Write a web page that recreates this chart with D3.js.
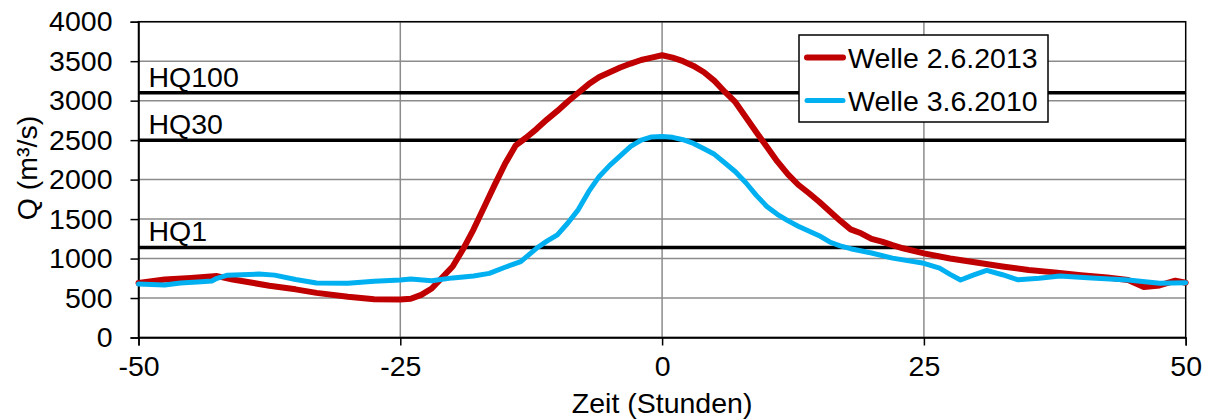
<!DOCTYPE html>
<html>
<head>
<meta charset="utf-8">
<script src="https://cdn.jsdelivr.net/npm/d3@7"></script>
<style>
  body { margin: 0; background: #fff; }
  svg { display: block; }
  text { font-family: "Liberation Sans", Arial, sans-serif; fill: #000; }
</style>
</head>
<body>
<svg id="chart" width="1208" height="419"></svg>
<script>
// Stunden relativ zum Scheitel, Abfluss Q in m3/s
var hours2013 = [-50, -47.5, -45, -42.5, -41, -39, -37.5, -35, -33, -30, -27.5, -25, -24, -23, -22, -21, -20, -19, -18, -17, -16, -15, -14, -13, -12, -11, -10, -9, -8, -7, -6, -5, -4, -3, -2, -1, 0, 1, 2, 3, 4, 5, 6, 7, 8, 9, 10, 11, 12, 13, 14, 15, 16, 17, 18, 19, 20, 21, 22, 23, 25, 27.5, 30, 32.5, 35, 37.5, 40, 42.5, 44.5, 46, 47.5, 49, 50];
var q2013 = [690, 735, 755, 778, 735, 690, 655, 610, 565, 515, 485, 480, 490, 540, 620, 760, 900, 1120, 1370, 1650, 1930, 2200, 2430, 2530, 2640, 2760, 2870, 2990, 3100, 3210, 3300, 3360, 3420, 3470, 3515, 3545, 3575, 3545, 3500, 3440, 3360, 3250, 3110, 2980, 2790, 2600, 2415, 2230, 2070, 1935, 1830, 1720, 1600, 1480, 1370, 1320, 1250, 1215, 1170, 1130, 1066, 1000, 950, 900, 855, 825, 790, 760, 728, 640, 660, 720, 694];

var hours2010 = [-50, -47.5, -46, -44, -43, -42.5, -41.5, -38.5, -37, -35, -33, -30, -27.5, -25, -24, -22, -20, -18, -16.5, -15, -13.5, -12, -11, -10, -9, -8, -7, -6, -5, -4, -3, -2, -1, 0, 1, 2, 3, 4, 5, 6, 7, 8, 9, 10, 11, 12, 13, 14, 15, 16, 17, 18, 20, 22, 25, 26.5, 27.5, 28.5, 29.7, 31, 32.5, 34, 36, 38, 41, 44.5, 47.5, 50];
var q2010 = [677, 665, 690, 705, 715, 750, 790, 803, 790, 735, 690, 686, 712, 728, 740, 720, 755, 780, 812, 890, 960, 1130, 1220, 1300, 1450, 1620, 1850, 2040, 2180, 2300, 2420, 2500, 2540, 2545, 2535, 2505, 2458, 2390, 2320, 2210, 2100, 1960, 1800, 1660, 1560, 1480, 1410, 1350, 1290, 1210, 1160, 1125, 1070, 1005, 940, 880, 800, 728, 791, 850, 795, 730, 750, 778, 755, 728, 686, 694];

var hqNames = ["HQ100", "HQ30", "HQ1"];
var hqValues = [3100, 2500, 1140];

var xTicks = [-50, -25, 0, 25, 50];
var yTicks = [0, 500, 1000, 1500, 2000, 2500, 3000, 3500, 4000];

var seriesNames = ["Welle 2.6.2013", "Welle 3.6.2010"];
var seriesColors = ["#c00000", "#00b0f0"];

var svg = d3.select("#chart"),
    plotLeft = 138.5, plotRight = 1185.7, plotTop = 21.7, plotBottom = 337.5,
    fontSize = "28.5px";

var x = d3.scaleLinear().domain([-50, 50]).range([plotLeft, plotRight]);
var y = d3.scaleLinear().domain([0, 4000]).range([plotBottom, plotTop]);

// Gitternetz
svg.append("g").selectAll("line").data(yTicks).enter().append("line")
    .attr("x1", plotLeft).attr("x2", plotRight)
    .attr("y1", function(d) { return y(d); }).attr("y2", function(d) { return y(d); })
    .attr("stroke", "#8c8c8c").attr("stroke-width", 1.5);
svg.append("g").selectAll("line").data(xTicks.slice(1, -1)).enter().append("line")
    .attr("x1", function(d) { return x(d); }).attr("x2", function(d) { return x(d); })
    .attr("y1", plotTop).attr("y2", plotBottom)
    .attr("stroke", "#8c8c8c").attr("stroke-width", 1.5);

// HQ-Linien
svg.append("g").selectAll("line").data(hqValues).enter().append("line")
    .attr("x1", plotLeft).attr("x2", plotRight)
    .attr("y1", function(d) { return y(d); }).attr("y2", function(d) { return y(d); })
    .attr("stroke", "#000").attr("stroke-width", 3.5);
svg.append("g").selectAll("text").data(hqValues).enter().append("text")
    .attr("x", plotLeft + 10)
    .attr("y", function(d) { return y(d) - 6; })
    .style("font-size", fontSize)
    .text(function(d, i) { return hqNames[i]; });

// Rahmen
svg.append("rect")
    .attr("x", plotLeft).attr("y", plotTop)
    .attr("width", plotRight - plotLeft).attr("height", plotBottom - plotTop)
    .attr("fill", "none").attr("stroke", "#000").attr("stroke-width", 1.5);

// Achsen
var yAxis = d3.axisLeft(y).tickValues(yTicks).tickSize(8).tickPadding(18)
    .tickFormat(function(d) { return String(d); });
var xAxis = d3.axisBottom(x).tickValues(xTicks).tickSize(8).tickPadding(10)
    .tickFormat(function(d) { return String(d); });

var gy = svg.append("g").attr("transform", "translate(" + plotLeft + ",0)").call(yAxis);
var gx = svg.append("g").attr("transform", "translate(0," + plotBottom + ")").call(xAxis);
[gx, gy].forEach(function(g) {
    g.select(".domain").attr("stroke", "#000").attr("stroke-width", 1.5);
    g.selectAll(".tick line").attr("stroke", "#000").attr("stroke-width", 1.5);
    g.selectAll(".tick text")
        .style("font-size", fontSize)
        .style("font-family", "'Liberation Sans', Arial, sans-serif")
        .attr("fill", "#000");
});

// Kurven
var line = d3.line()
    .x(function(d) { return x(d[0]); })
    .y(function(d) { return y(d[1]); });

var data2013 = hours2013.map(function(h, i) { return [h, q2013[i]]; });
var data2010 = hours2010.map(function(h, i) { return [h, q2010[i]]; });

svg.append("path").datum(data2013)
    .attr("d", line).attr("fill", "none")
    .attr("stroke", seriesColors[0]).attr("stroke-width", 6)
    .attr("stroke-linejoin", "round").attr("stroke-linecap", "round");
svg.append("path").datum(data2010)
    .attr("d", line).attr("fill", "none")
    .attr("stroke", seriesColors[1]).attr("stroke-width", 5)
    .attr("stroke-linejoin", "round").attr("stroke-linecap", "round");

// Achsentitel
svg.append("text")
    .attr("x", (plotLeft + plotRight) / 2).attr("y", 413)
    .attr("text-anchor", "middle")
    .style("font-size", fontSize)
    .text("Zeit (Stunden)");
svg.append("text")
    .attr("transform", "translate(37,168) rotate(-90)")
    .attr("text-anchor", "middle")
    .style("font-size", fontSize)
    .text("Q (m³/s)");

// Legende
var legend = svg.append("g");
legend.append("rect")
    .attr("x", 799).attr("y", 35).attr("width", 249).attr("height", 87)
    .attr("fill", "#fff").attr("stroke", "#000").attr("stroke-width", 1.5);
var entries = legend.selectAll(".entry").data(seriesNames).enter().append("g")
    .attr("class", "entry")
    .attr("transform", function(d, i) { return "translate(0," + (57.5 + i * 43) + ")"; });
entries.append("line")
    .attr("x1", 807).attr("x2", 843)
    .attr("stroke", function(d, i) { return seriesColors[i]; })
    .attr("stroke-width", function(d, i) { return i === 0 ? 6 : 5; })
    .attr("stroke-linecap", "round");
entries.append("text")
    .attr("x", 848).attr("y", 10)
    .style("font-size", fontSize)
    .text(function(d) { return d; });
</script>
</body>
</html>
